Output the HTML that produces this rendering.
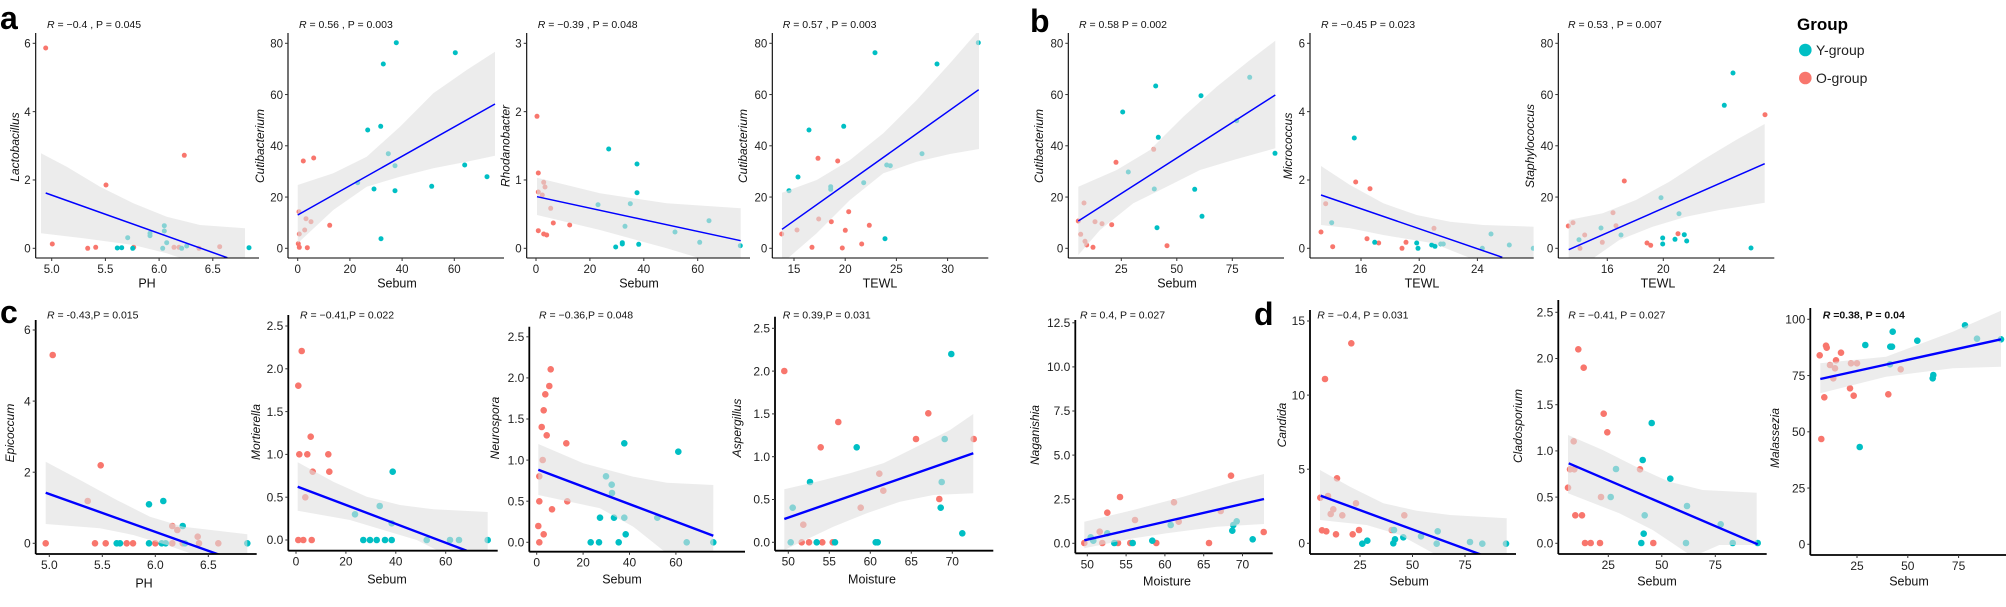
<!DOCTYPE html>
<html><head><meta charset="utf-8">
<style>
html,body{margin:0;padding:0;background:#fff;}
svg{display:block;}
text{font-family:"Liberation Sans",Arial,sans-serif;}
</style></head>
<body>
<svg id="s" xmlns="http://www.w3.org/2000/svg" width="2006" height="607" viewBox="0 0 2006 607"></svg>
<script>
const C='#00BFC4',R='#F8766D';
const P=[
{ax:35.7,top:33,bot:258,right:259,o:[0,0],yl:['0','2','4','6'],y0:248.3,dy:-68.33,xl:['5.0','5.5','6.0','6.5'],x0:51.7,dx:53.7,
 yt:'Lactobacillus',ytp:[15,147],xtt:'PH',xtp:[147,283],rx:47,rt:'= \u22120.4 , P = 0.045',
 O:[[137,144],[157,732],[263,745],[287,742],[318,555],[401,742],[553,466],[522,742],[537,742],[597,745],[659,740]],
 Y:[[352,744],[365,743],[398,745],[383,713],[450,707],[450,700],[493,677],[493,693],[500,728],[488,745],[545,745],[560,738],[747,743]],
 L:[137,579,682,773],U:[[123,460],[200,500],[300,560],[400,610],[500,650],[600,675],[735,685]],D:[[735,790],[560,780],[500,760],[400,735],[250,715],[123,700]]},
{ax:288,top:33,bot:258,right:504,o:[0,0],yl:['0','20','40','60','80'],y0:248.3,dy:-51.25,xl:['0','20','40','60'],x0:297.7,dx:52.2,
 yt:'Cutibacterium',ytp:[260,146],xtt:'Sebum',xtp:[397,283],rx:299,rt:'= 0.56 , P = 0.003',
 O:[[897,635],[898,702],[898,742],[895,731],[910,483],[941,474],[918,656],[914,690],[933,665],[989,676],[922,743]],
 Y:[[1073,548],[1103,390],[1142,379],[1150,192],[1189,128],[1143,716],[1165,461],[1185,497],[1185,572],[1122,567],[1295,559],[1366,158],[1394,495],[1461,530]],
 L:[893,645,1485,312],U:[[893,555],[1000,520],[1100,470],[1200,380],[1300,280],[1400,210],[1485,155]],D:[[1485,467],[1400,485],[1300,505],[1200,530],[1100,560],[1000,630],[893,730]]},
{ax:526.7,top:33,bot:258,right:750,o:[500,0],yl:['0','1','2','3'],y0:248.3,dy:-68.33,xl:['0','20','40','60'],x0:536,dx:53.9,
 yt:'Rhodanobacter',ytp:[505.7,146],xtt:'Sebum',xtp:[639,283],rx:537.7,rt:'= \u22120.39 , P = 0.048',
 O:[[111,349],[115,519],[115,576],[131,547],[135,561],[127,585],[152,625],[160,669],[209,675],[115,692],[131,702],[140,705]],
 Y:[[326,447],[411,492],[411,578],[391,611],[294,614],[375,679],[347,741],[367,728],[367,732],[416,733],[525,696],[599,727],[627,662],[721,737]],
 L:[111,590,722,722],U:[[111,533],[300,580],[500,610],[722,625]],D:[[722,790],[600,775],[500,745],[300,690],[111,645]]},
{ax:772.3,top:33,bot:258,right:988.3,o:[500,0],yl:['0','20','40','60','80'],y0:248.3,dy:-51.25,xl:['15','20','25','30'],x0:794,dx:51.2,
 yt:'Cutibacterium',ytp:[743,146],xtt:'TEWL',xtp:[880,283],rx:782.7,rt:'= 0.57 , P = 0.003',
 O:[[845,702],[891,690],[936,742],[954,475],[956,657],[994,665],[1013,483],[1027,744],[1036,691],[1046,635],[1085,732],[1108,676]],
 Y:[[867,572],[894,531],[927,390],[992,560],[992,568],[1031,379],[1091,548],[1125,158],[1155,716],[1160,495],[1171,497],[1266,461],[1311,192],[1435,128]],
 L:[846,688,1436,269],U:[[846,578],[950,540],[1050,480],[1150,400],[1250,300],[1350,190],[1437,90]],D:[[1437,447],[1350,462],[1250,485],[1150,520],[1050,600],[950,700],[846,790]]},
{ax:1068.3,top:33,bot:258,right:1284,o:[1000,0],yl:['0','20','40','60','80'],y0:248.3,dy:-51.25,xl:['25','50','75'],x0:1121.3,dx:55.5,
 yt:'Cutibacterium',ytp:[1039,146],xtt:'Sebum',xtp:[1177,283],rx:1079,rt:'= 0.58   P = 0.002',
 O:[[235,663],[242,703],[252,609],[255,724],[260,735],[279,742],[285,665],[306,671],[335,674],[348,487],[461,448],[501,737]],
 Y:[[368,336],[385,516],[463,567],[467,258],[471,683],[475,412],[584,568],[603,287],[606,649],[710,362],[749,232],[825,460]],
 L:[235,663,826,285],U:[[235,560],[350,510],[450,450],[550,350],[650,260],[750,180],[826,122]],D:[[826,445],[700,480],[600,510],[500,560],[400,610],[300,690],[235,765]]},
{ax:1310,top:33,bot:258,right:1533.7,o:[1000,0],yl:['0','2','4','6'],y0:248.3,dy:-68.33,xl:['16','20','24'],x0:1361,dx:58.2,
 yt:'Micrococcus',ytp:[1288,146],xtt:'TEWL',xtp:[1422,283],rx:1321,rt:'= \u22120.45   P = 0.023',
 O:[[963,696],[977,611],[998,740],[1067,546],[1101,716],[1110,566],[1136,729],[1206,745],[1218,727],[1302,685]],
 Y:[[995,668],[1063,414],[1124,727],[1250,729],[1254,745],[1295,735],[1305,739],[1322,732],[1330,732],[1447,745],[1473,702],[1528,735],[1600,745]],
 L:[963,585,1507,772],U:[[963,498],[1050,555],[1150,610],[1250,645],[1350,665],[1450,675],[1601,680]],D:[[1601,790],[1450,790],[1300,730],[1150,705],[1050,685],[963,675]]},
{ax:1558.3,top:33,bot:258,right:1774.3,o:[1486,0],yl:['0','20','40','60','80'],y0:248.3,dy:-51.25,xl:['16','20','24'],x0:1607.3,dx:56,
 yt:'Staphylococcus',ytp:[1530,146],xtt:'TEWL',xtp:[1658,283],rx:1568,rt:'= 0.53 , P = 0.007',
 O:[[247,678],[261,668],[282,745],[296,705],[349,727],[381,638],[390,677],[415,543],[483,729],[494,736],[576,701],[837,344]],
 Y:[[279,719],[345,684],[405,705],[525,593],[530,714],[530,732],[567,718],[579,641],[595,704],[602,723],[715,316],[741,219],[795,744]],
 L:[248,749,836,491],U:[[248,660],[350,640],[450,600],[550,545],[650,480],[750,420],[836,372]],D:[[836,608],[700,630],[600,650],[500,680],[400,720],[300,790],[248,790]]},
{ax:35.7,top:320,bot:554,right:256.7,o:[0,300],yl:['0','2','4','6'],y0:543.3,dy:-71.1,xl:['5.0','5.5','6.0','6.5'],x0:49.3,dx:53,big:1,
 yt:'Epicoccum',ytp:[10,433],xtt:'PH',xtp:[144,583],rx:47,rt:'= -0.43,P = 0.015',
 O:[[137,730],[158,165],[263,603],[285,730],[302,496],[317,730],[380,730],[399,730],[466,730],[517,678],[532,690],[517,730],[548,730],[593,710],[597,730],[655,730]],
 Y:[[350,730],[360,730],[447,613],[490,603],[447,730],[485,730],[497,730],[548,678],[555,730],[742,730]],
 L:[137,578,660,765],U:[[137,485],[250,545],[350,600],[450,650],[550,680],[742,703]],D:[[742,795],[600,770],[500,735],[400,705],[300,685],[137,672]]},
{ax:288.3,top:315,bot:550.7,right:497.7,o:[0,300],yl:['0.0','0.5','1.0','1.5','2.0','2.5'],y0:540,dy:-42.8,xl:['0','20','40','60'],x0:296,dx:49.9,big:1,
 yt:'Mortierella',ytp:[256,432],xtt:'Sebum',xtp:[387,579],rx:300,rt:'= \u22120.41,P = 0.022',
 O:[[895,257],[905,153],[898,463],[922,463],[932,410],[938,515],[916,592],[985,463],[988,515],[895,720],[910,720],[935,720]],
 Y:[[1065,643],[1139,618],[1178,515],[1175,670],[1090,720],[1110,720],[1130,720],[1155,720],[1175,720],[1280,720],[1350,720],[1377,720],[1463,720]],
 L:[893,560,1400,752],U:[[893,487],[1000,545],[1100,590],[1200,615],[1300,628],[1463,636]],D:[[1463,780],[1350,770],[1250,720],[1150,690],[1050,660],[893,632]]},
{ax:529.3,top:326.7,bot:551.7,right:745,o:[500,300],yl:['0.0','0.5','1.0','1.5','2.0','2.5'],y0:542.3,dy:-41.1,xl:['0','20','40','60'],x0:536.7,dx:46.4,big:1,
 yt:'Neurospora',ytp:[495,428],xtt:'Sebum',xtp:[622,579],rx:539,rt:'= \u22120.36,P = 0.048',
 O:[[152,208],[148,258],[136,283],[131,331],[125,381],[140,406],[199,430],[128,480],[118,529],[118,604],[156,628],[202,604],[115,678],[131,703],[118,727]],
 Y:[[373,430],[535,455],[318,529],[335,554],[336,579],[300,653],[342,653],[373,653],[377,703],[472,653],[272,727],[297,727],[356,727],[560,727],[640,727]],
 L:[115,509,640,707],U:[[115,432],[250,490],[400,530],[500,548],[640,555]],D:[[640,790],[500,760],[400,680],[300,625],[115,585]]},
{ax:775,top:316.7,bot:550.7,right:993.3,o:[500,300],yl:['0.0','0.5','1.0','1.5','2.0','2.5'],y0:542.3,dy:-42.8,xl:['50','55','60','65','70'],x0:788.3,dx:41,big:1,
 yt:'Aspergillus',ytp:[737,428],xtt:'Moisture',xtp:[872,579],rx:782.7,rt:'= 0.39,P = 0.031',
 O:[[853,213],[1015,366],[962,442],[1285,340],[1248,417],[1421,417],[1138,521],[1150,572],[1082,623],[910,674],[1318,597],[905,727],[927,727],[967,727],[998,727]],
 Y:[[1354,162],[1070,442],[1334,417],[930,546],[1325,546],[878,623],[1322,623],[1387,700],[872,727],[950,727],[1005,727],[1127,727],[1133,727]],
 L:[853,657,1420,460],U:[[853,568],[950,545],[1050,520],[1150,490],[1250,440],[1350,390],[1420,342]],D:[[1420,580],[1300,585],[1200,605],[1100,640],[1000,680],[853,750]]},
{ax:1075.3,top:320,bot:553.3,right:1272.7,o:[1000,300],yl:['0.0','2.5','5.0','7.5','10.0','12.5'],y0:543.3,dy:-44.1,xl:['50','55','60','65','70'],x0:1087.3,dx:38.8,big:1,
 yt:'Naganishia',ytp:[1035,435],xtt:'Moisture',xtp:[1167,581],rx:1080,rt:'= 0.4, P = 0.027',
 O:[[253,729],[299,695],[322,638],[360,591],[405,660],[354,729],[307,729],[391,729],[469,729],[522,607],[536,665],[627,729],[662,633],[693,527],[791,696]],
 Y:[[272,712],[280,722],[322,700],[343,729],[398,729],[457,722],[512,675],[697,692],[700,675],[710,664],[758,718]],
 L:[253,721,792,597],U:[[253,665],[400,630],[550,590],[700,545],[792,522]],D:[[792,672],[650,680],[500,700],[400,715],[253,745]]},
{ax:1310,top:310,bot:554,right:1516,o:[1000,300],yl:['0','5','10','15'],y0:543.3,dy:-74.1,xl:['25','50','75'],x0:1360,dx:52.5,big:1,
 yt:'Candida',ytp:[1282,425],xtt:'Sebum',xtp:[1409,581],rx:1317.3,rt:'= \u22120.4, P = 0.031',
 O:[[1054,130],[975,237],[1011,535],[961,593],[984,588],[1000,628],[992,642],[1027,646],[1068,610],[1213,646],[966,691],[979,694],[1008,703],[1058,703],[1077,690],[1175,690]],
 Y:[[1313,694],[1263,709],[1210,712],[1410,726],[1447,731],[1518,731],[1310,731],[1087,731],[1102,722],[1180,730],[1185,718],[1182,690]],
 L:[962,587,1460,770],U:[[960,510],[1050,560],[1150,610],[1250,632],[1350,645],[1520,655]],D:[[1520,790],[1400,790],[1300,760],[1200,705],[1100,675],[960,660]]},
{ax:1558.3,top:300,bot:554,right:1766.7,o:[1486,300],yl:['0.0','0.5','1.0','1.5','2.0','2.5'],y0:543.3,dy:-46.2,xl:['25','50','75'],x0:1608.3,dx:53.5,big:1,
 yt:'Cladosporium',ytp:[1518,426],xtt:'Sebum',xtp:[1657,581],rx:1568.3,rt:'= \u22120.41, P = 0.027',
 O:[[277,148],[293,203],[353,341],[364,397],[263,424],[252,508],[265,508],[246,563],[345,591],[462,508],[268,646],[288,646],[297,729],[314,729],[342,729],[502,729]],
 Y:[[497,369],[470,480],[390,507],[553,536],[374,591],[603,618],[476,646],[473,701],[466,729],[600,729],[704,673],[740,729],[815,729]],
 L:[248,490,815,733],U:[[246,405],[350,450],[450,500],[550,545],[650,570],[812,578]],D:[[812,735],[700,735],[620,770],[500,690],[400,640],[246,580]]},
{ax:1810.3,top:308,bot:555,right:2006,o:[1486,300],yl:['0','25','50','75','100'],y0:544.3,dy:-56.25,xl:['25','50','75'],x0:1857,dx:50.8,big:1,
 yt:'Malassezia',ytp:[1775,438],xtt:'Sebum',xtp:[1909,581],rx:1822.7,rt:'=0.38, P = 0.04',bold:1,
 O:[[1001,166],[1020,137],[1022,143],[1065,158],[1050,181],[1032,195],[1047,205],[1042,235],[1095,190],[1113,190],[1244,208],[1092,265],[1103,287],[1015,292],[1207,283],[1006,417]],
 Y:[[1138,135],[1213,140],[1218,140],[1220,95],[1294,122],[1437,76],[1473,116],[1545,118],[1212,193],[1342,225],[1340,235],[1121,441]],
 L:[1003,237,1545,118],U:[[1003,190],[1200,170],[1400,95],[1545,32]],D:[[1545,200],[1400,205],[1200,230],[1003,280]]}
];
let h='<rect width="2006" height="607" fill="#fff"/>';
P.forEach((p,i)=>{
 const ox=p.o[0],oy=p.o[1];
 const X=z=>(ox+z/3).toFixed(1),Y=z=>(oy+z/3).toFixed(1);
 const r=p.big?3.3:2.5, lw=p.big?2.4:1.5, aw=p.big?1.8:1.1, fs=p.big?12:11.5;
 h+=`<clipPath id="c${i}"><rect x="${p.ax}" y="${p.top}" width="${p.right-p.ax}" height="${p.bot-p.top}"/></clipPath><g clip-path="url(#c${i})">`;
 p.O.forEach(q=>h+=`<circle cx="${X(q[0])}" cy="${Y(q[1])}" r="${r}" fill="${R}"/>`);
 p.Y.forEach(q=>h+=`<circle cx="${X(q[0])}" cy="${Y(q[1])}" r="${r}" fill="${C}"/>`);
 const pts=p.U.concat(p.D).map(q=>X(q[0])+','+Y(q[1])).join(' ');
 h+=`<polygon points="${pts}" fill="#e0e0e0" fill-opacity="0.6"/>`;
 h+=`<line x1="${X(p.L[0])}" y1="${Y(p.L[1])}" x2="${X(p.L[2])}" y2="${Y(p.L[3])}" stroke="#0000ff" stroke-width="${lw}"/></g>`;
 h+=`<line x1="${p.ax}" y1="${p.top}" x2="${p.ax}" y2="${p.bot}" stroke="#000" stroke-width="${aw}"/>`;
 h+=`<line x1="${p.ax}" y1="${p.bot}" x2="${p.right}" y2="${p.bot}" stroke="#000" stroke-width="${aw}"/>`;
 p.yl.forEach((l,k)=>{const y=p.y0+k*p.dy;
  h+=`<line x1="${p.ax-3}" y1="${y}" x2="${p.ax}" y2="${y}" stroke="#333" stroke-width="1"/>`;
  h+=`<text x="${p.ax-5}" y="${y+4.2}" text-anchor="end" font-size="${fs}" fill="#222">${l}</text>`;});
 p.xl.forEach((l,k)=>{const x=p.x0+k*p.dx;
  h+=`<line x1="${x}" y1="${p.bot}" x2="${x}" y2="${p.bot+3}" stroke="#333" stroke-width="1"/>`;
  h+=`<text x="${x}" y="${p.bot+15}" text-anchor="middle" font-size="${fs}" fill="#222">${l}</text>`;});
 h+=`<text x="${p.xtp[0]}" y="${p.xtp[1]+4.5}" text-anchor="middle" font-size="12.5" fill="#111">${p.xtt}</text>`;
 h+=`<text transform="translate(${p.ytp[0]+4},${p.ytp[1]}) rotate(-90)" text-anchor="middle" font-size="12" font-style="italic" fill="#111">${p.yt}</text>`;
 const ry=p.big?318.5:28;
 h+=`<text x="${p.rx}" y="${ry}" font-size="10.5" fill="#111" ${p.bold?'font-weight="bold"':''}><tspan font-style="italic">R</tspan> ${p.rt}</text>`;
});
h+=`<text x="0" y="29" font-size="32" font-weight="bold">a</text>`;
h+=`<text x="1030" y="32" font-size="32" font-weight="bold">b</text>`;
h+=`<text x="0" y="323" font-size="32" font-weight="bold">c</text>`;
h+=`<text x="1254" y="325" font-size="32" font-weight="bold">d</text>`;
h+=`<text x="1797" y="30" font-size="17" font-weight="bold">Group</text>`;
h+=`<circle cx="1805.3" cy="50" r="6.3" fill="${C}"/><text x="1816" y="55" font-size="14" fill="#222">Y-group</text>`;
h+=`<circle cx="1805.3" cy="78" r="6.3" fill="${R}"/><text x="1816" y="83" font-size="14" fill="#222">O-group</text>`;
document.getElementById('s').innerHTML=h;
</script>
</body></html>
